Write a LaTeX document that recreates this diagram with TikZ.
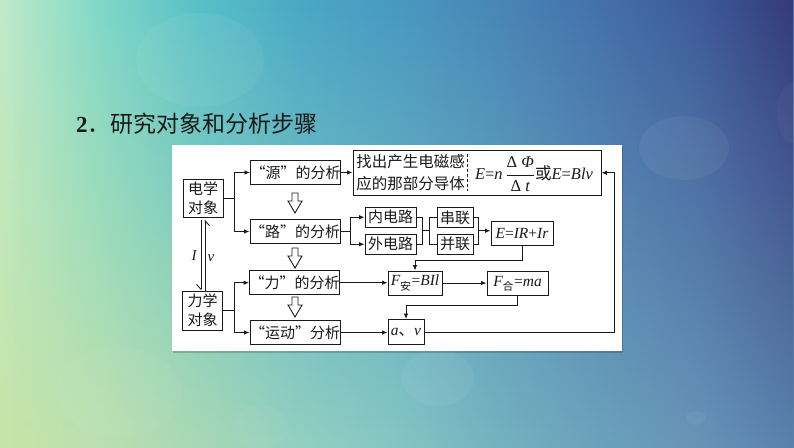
\documentclass[tikz,border=0pt]{standalone}
\usepackage{fontspec}
\setmainfont{Liberation Serif}
\newfontfamily\cjk{Noto Sans CJK SC}
\usetikzlibrary{arrows.meta,fadings,calc}
\tikzfading[name=fadedown, top color=transparent!0, bottom color=transparent!100]
\newcommand\myit[1]{{\rmfamily\itshape #1}}
\definecolor{ink}{HTML}{1A1A1A}
\definecolor{tA}{HTML}{C0EBCB}\definecolor{tB}{HTML}{80D8C8}\definecolor{tC}{HTML}{58C0C8}
\definecolor{tD}{HTML}{4AA8C6}\definecolor{tE}{HTML}{4898C0}\definecolor{tF}{HTML}{4886B6}
\definecolor{tG}{HTML}{4470AA}\definecolor{tH}{HTML}{3D5A98}\definecolor{tI}{HTML}{343A7A}
\definecolor{bA}{HTML}{C6E4A8}\definecolor{bB}{HTML}{BCE0AE}\definecolor{bC}{HTML}{A8D8B6}
\definecolor{bD}{HTML}{92D0C0}\definecolor{bE}{HTML}{84C6C4}\definecolor{bF}{HTML}{74B2C0}
\definecolor{bG}{HTML}{6CA2BC}\definecolor{bH}{HTML}{6894B8}\definecolor{bI}{HTML}{5A80AC}
\pgfdeclarehorizontalshading{bgtop}{100bp}{color(0bp)=(tA); color(25bp)=(tA); color(31.3bp)=(tB); color(37.6bp)=(tC); color(43.9bp)=(tD); color(50.2bp)=(tE); color(56.5bp)=(tF); color(62.8bp)=(tG); color(69.1bp)=(tH); color(75bp)=(tI); color(100bp)=(tI)}
\pgfdeclarehorizontalshading{bgbot}{100bp}{color(0bp)=(bA); color(25bp)=(bA); color(31.3bp)=(bB); color(37.6bp)=(bC); color(43.9bp)=(bD); color(50.2bp)=(bE); color(56.5bp)=(bF); color(62.8bp)=(bG); color(69.1bp)=(bH); color(75bp)=(bI); color(100bp)=(bI)}
\begin{document}
\begin{tikzpicture}[x=1pt,y=-1pt,
  box/.style={draw=ink, line width=1pt, fill=white, inner sep=0pt, align=center,
    font=\cjk\fontsize{15}{19}\selectfont, text=ink},
  fbox/.style={box, font=\rmfamily\fontsize{15.5}{18}\selectfont},
  conn/.style={draw=ink, line width=0.9pt},
  arr/.style={conn, -{Latex[length=5.5pt,width=4.5pt]}},
  harp/.style={conn, -{Straight Barb[right,length=5pt,width=9pt]}},
  bokeh/.style={white, opacity=0.05},
  hollowdown/.pic={\draw[ink, line width=0.9pt, fill=white] (-3,0) -- (3,0) -- (3,8) -- (7,8) -- (0,20) -- (-7,8) -- (-3,8) -- cycle;}
]
\useasboundingbox (0,0) rectangle (794,447);
% background
\begin{scope}
\clip (0,0) rectangle (794,447);
\shade[shading=bgbot] (0,0) rectangle (794,447);
\shade[shading=bgtop, path fading=fadedown] (0,0) rectangle (794,447);
\fill[bokeh] (200,60) ellipse [x radius=64, y radius=47];
\fill[bokeh] (684,148) ellipse [x radius=45, y radius=32];
\fill[bokeh] (438,378) ellipse [x radius=36, y radius=28];
\fill[bokeh, opacity=0.035] (119,392) ellipse [x radius=63, y radius=45];
\fill[bokeh, opacity=0.035] (261,427) ellipse [x radius=28, y radius=22];
\fill[bokeh] (696,418) ellipse [x radius=10, y radius=7];
\fill[bokeh, opacity=0.03] (792,113) ellipse [x radius=15, y radius=30];
\end{scope}
% title
\node[anchor=west, inner sep=0pt, text=ink, font=\fontsize{23}{26}\selectfont] (title) at (76,124) {\textbf{2}{\cjk ．研究对象和分析步骤}};
% panel
\fill[black, opacity=0.18] (173,146.5) rectangle (623,352.5);
\node[fill=white, inner sep=0pt, minimum width=450pt, minimum height=206pt] (panel) at (397,248) {};
% nodes
\node[box, minimum width=40pt, minimum height=38pt] (dx) at (203,198.5) {电学\\对象};
\node[box, minimum width=40pt, minimum height=39pt] (lx) at (202.5,310.5) {力学\\对象};
\node[box, minimum width=90pt, minimum height=24pt] (yuan) at (295.5,172.5) {“源”的分析};
\node[box, minimum width=90pt, minimum height=24pt] (lu) at (295,231.5) {“路”的分析};
\node[box, minimum width=90pt, minimum height=24pt] (li) at (294.5,282.7) {“力”的分析};
\node[box, minimum width=89pt, minimum height=24pt] (yd) at (295,332.5) {“运动”分析};
\node[box, minimum width=248pt, minimum height=44.5pt] (zc) at (477,172.75) {};
\node[inner sep=0pt, align=left, text=ink, font=\cjk\fontsize{15.5}{21.3}\selectfont] (zct) at (410.5,172.5) {找出产生电磁感\\应的那部分导体};
\draw[ink, line width=0.8pt, dash pattern=on 3pt off 2pt] (467.5,154) -- (467.5,191);
\node[inner sep=0pt, text=ink, font=\rmfamily\fontsize{16.5}{19}\selectfont] (zcf) at (534,174) {\myit{E}=\myit{n}\,$\displaystyle\frac{\mbox{\rule[-1pt]{0pt}{12pt}Δ\ \myit{Φ}}}{\mbox{\rule{0pt}{12pt}Δ\ \myit{t}}}${\cjk 或}\myit{E}=\myit{Blv}};
\node[box, minimum width=51pt, minimum height=19.5pt] (nei) at (390.5,217.25) {内电路};
\node[box, minimum width=51pt, minimum height=19.5pt] (wai) at (390.5,244.25) {外电路};
\node[box, minimum width=36pt, minimum height=20pt] (chuan) at (455,217.5) {串联};
\node[box, minimum width=36pt, minimum height=20pt] (bing) at (455,244) {并联};
\node[fbox, minimum width=62pt, minimum height=24pt] (eir) at (522,233) {\myit{E}=\myit{IR}+\myit{Ir}};
\node[fbox, minimum width=54pt, minimum height=24pt] (fan) at (415,283) {\myit{F}\textsubscript{\cjk 安}=\myit{BIl}};
\node[fbox, minimum width=61pt, minimum height=24pt] (fhe) at (517.5,283.5) {\myit{F}\textsubscript{\cjk 合}=\myit{ma}};
\node[fbox, minimum width=36pt, minimum height=25pt] (av) at (406,332) {\myit{a}{\cjk 、}\myit{v}};
% hollow arrows
\pic at (295,193) {hollowdown};
\pic at (295,248) {hollowdown};
\pic at (295,297) {hollowdown};
% connectors
\coordinate (j1) at ($(dx.east)+(11,0)$);
\draw[conn] (dx.east) -- (j1);
\draw[arr] (j1) |- (yuan.west);
\draw[arr] (j1) |- (lu.west);
\coordinate (j2) at ($(lx.east)+(11,0)$);
\draw[conn] (lx.east) -- (j2);
\draw[arr] (j2) |- (li.west);
\draw[arr] (j2) |- (yd.west);
\draw[arr] (yuan.east) -- (yuan.east -| zc.west);
\coordinate (j3) at ($(lu.east)+(10,0)$);
\draw[conn] (lu.east) -- (j3);
\draw[arr] (j3) |- (nei.west);
\draw[arr] (j3) |- (wai.west);
\coordinate (k1) at ($(nei.east)+(6,0)$);
\coordinate (k2) at ($(wai.east)+(6,0)$);
\draw[conn] (nei.east) -- (k1) -- (k2) -- (wai.east);
\coordinate (km) at ($(k1)!0.5!(k2)$);
\coordinate (k6) at ($(chuan.west)+(-7,0)$);
\coordinate (k7) at ($(bing.west)+(-7,0)$);
\draw[conn] (km) -- (km -| k6);
\draw[conn] (chuan.west) -- (k6) -- (k7) -- (bing.west);
\coordinate (k3) at ($(chuan.east)+(5,0)$);
\coordinate (k4) at ($(bing.east)+(5,0)$);
\draw[conn] (chuan.east) -- (k3) -- (k4) -- (bing.east);
\coordinate (k5) at ($(k3)!0.5!(k4)$);
\draw[arr] (k5) -- (k5 -| eir.west);
\draw[arr] (eir.south) -- ++(0,15) -| (fan.north);
\draw[arr] (li.east) -- (li.east -| fan.west);
\draw[arr] (fan.east) -- (fan.east -| fhe.west);
\draw[arr] (fhe.south) -- ++(0,9.5) -| (av.north);
\draw[arr] (yd.east) -- (yd.east -| av.west);
\coordinate (rloop) at ($(zc.east)+(13,0)$);
\draw[arr] (av.east) -| (rloop) -- (zc.east);
% I / v harpoons
\draw[harp] ($(dx.south)+(-2,1.5)$) -- ($(lx.north)+(-1.5,0)$);
\draw[harp] ($(lx.north)+(2.5,0)$) -- ($(dx.south)+(2,1.5)$);
\node[inner sep=0pt, text=ink, font=\rmfamily\itshape\fontsize{15}{15}\selectfont] (lI) at (194,256) {I};
\node[inner sep=0pt, text=ink, font=\rmfamily\itshape\fontsize{15}{15}\selectfont] (lv) at (211,258) {v};
\end{tikzpicture}
\end{document}
